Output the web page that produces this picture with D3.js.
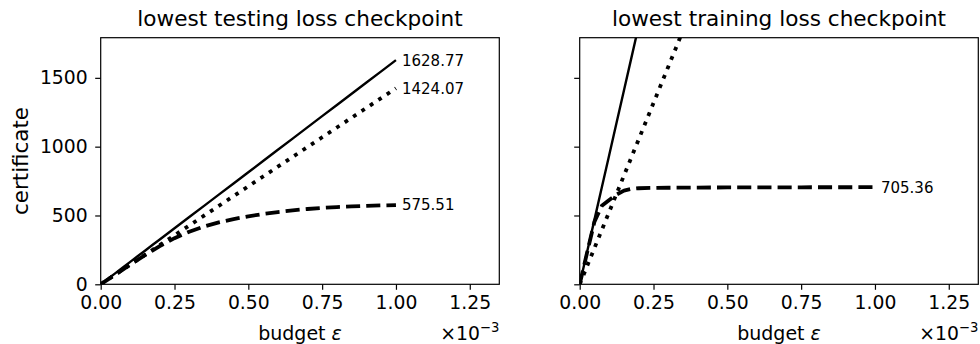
<!DOCTYPE html>
<html>
<head>
<meta charset="utf-8">
<script src="https://cdn.jsdelivr.net/npm/d3@7"></script>
<style>
  html, body { margin: 0; padding: 0; background: #fff; }
  svg { display: block; }
  text { font-family: "DejaVu Sans", sans-serif; fill: #000; }
</style>
</head>
<body>
<svg id="chart" width="980" height="344"></svg>
<script>
// Budget values (units of 1e-3)
const budgets = [0, 0.025, 0.05, 0.075, 0.1, 0.125, 0.15, 0.175, 0.2, 0.25, 0.3, 0.35, 0.4,
                 0.45, 0.5, 0.55, 0.6, 0.65, 0.7, 0.75, 0.8, 0.85, 0.9, 0.95, 1.0];

// Lowest testing loss checkpoint
const testSolid  = [0, 40.7, 81.4, 122.2, 162.9, 203.6, 244.3, 285.0, 325.8, 407.2, 488.6, 570.1, 651.5,
                    732.9, 814.4, 895.8, 977.3, 1058.7, 1140.1, 1221.6, 1303.0, 1384.5, 1465.9, 1547.3, 1628.77];
const testDotted = [0, 35.6, 71.2, 106.8, 142.4, 178.0, 213.6, 249.2, 284.8, 356.0, 427.2, 498.4, 569.6,
                    640.8, 712.0, 783.2, 854.4, 925.6, 996.8, 1068.1, 1139.3, 1210.5, 1281.7, 1352.9, 1424.07];
const testDashed = [0, 36, 72, 107, 143, 178, 212, 245, 278, 335, 382, 420, 450,
                    474, 494, 511, 525, 537, 547, 555, 561, 566, 570, 573, 575.51];

// Lowest training loss checkpoint
const trainSolid  = [0, 235, 470, 705, 940, 1175, 1410, 1645, 1880, 2350, 2820, 3290, 3760,
                     4230, 4700, 5170, 5640, 6110, 6580, 7050, 7520, 7990, 8460, 8930, 9400];
const trainDotted = [0, 131.8, 263.5, 395.3, 527.0, 658.8, 790.5, 922.3, 1054.0, 1317.5, 1581.0, 1844.5, 2108.0,
                     2371.5, 2635.0, 2898.5, 3162.0, 3425.5, 3689.0, 3952.5, 4216.0, 4479.5, 4743.0, 5006.5, 5270.0];
const trainDashed = [0, 230, 455, 570, 612, 652, 681, 693, 698, 700.5, 701.5, 702.2, 702.8,
                     703.3, 703.7, 704.0, 704.3, 704.5, 704.7, 704.9, 705.0, 705.1, 705.2, 705.3, 705.36];

const xTicks = [0, 0.25, 0.5, 0.75, 1.0, 1.25];
const yTicks = [0, 500, 1000, 1500];
const titles = ["lowest testing loss checkpoint", "lowest training loss checkpoint"];

const panels = [
  { title: titles[0], series: [testSolid, testDotted, testDashed], left: 100.7, yLabels: true },
  { title: titles[1], series: [trainSolid, trainDotted, trainDashed], left: 579.7, yLabels: false }
];

const styles = [
  { width: 2.4, dash: null },
  { width: 3.8, dash: "3.8,6.3" },
  { width: 3.8, dash: "14.1,6.1" }
];

const plotW = 398.6, plotTop = 37.7, plotBottom = 284.3;
const yMax = 1.1 * 1628.77;

const svg = d3.select("#chart");
const defs = svg.append("defs");

panels.forEach((p, i) => {
  const x = d3.scaleLinear().domain([0, 1.35]).range([p.left, p.left + plotW]);
  const y = d3.scaleLinear().domain([0, yMax]).range([plotBottom, plotTop]);

  defs.append("clipPath").attr("id", "clip" + i)
    .append("rect").attr("x", p.left).attr("y", plotTop)
    .attr("width", plotW).attr("height", plotBottom - plotTop);

  const g = svg.append("g");

  // data lines
  const line = d3.line().x((d, k) => x(budgets[k])).y(d => y(d));
  const lg = g.append("g").attr("clip-path", `url(#clip${i})`);
  p.series.forEach((s, k) => {
    lg.append("path").datum(s)
      .attr("d", line)
      .attr("fill", "none")
      .attr("stroke", "#000")
      .attr("stroke-width", styles[k].width)
      .attr("stroke-linecap", "butt")
      .attr("stroke-linejoin", "round")
      .attr("stroke-dasharray", styles[k].dash);
  });

  // end-value labels (only those inside the visible range)
  p.series.forEach(s => {
    const v = s[s.length - 1];
    if (v > yMax) return;
    g.append("text")
      .attr("x", x(budgets[budgets.length - 1]) + 6)
      .attr("y", y(v))
      .attr("dy", "0.36em")
      .attr("font-size", 15)
      .text(v.toFixed(2));
  });

  // axes
  const xAxis = d3.axisBottom(x).tickValues(xTicks).tickFormat(d3.format(".2f"))
    .tickSize(5.5).tickPadding(6);
  const gx = g.append("g").attr("transform", `translate(0,${plotBottom})`).call(xAxis);
  const yAxis = d3.axisLeft(y).tickValues(yTicks).tickSize(5.5).tickPadding(7.5)
    .tickFormat(p.yLabels ? d3.format("d") : () => "");
  const gy = g.append("g").attr("transform", `translate(${p.left},0)`).call(yAxis);
  [gx, gy].forEach(a => {
    a.select(".domain").remove();
    a.selectAll(".tick line").attr("stroke", "#000").attr("stroke-width", 1.2);
    a.selectAll(".tick text").attr("font-size", 18.8).attr("fill", "#000")
      .attr("font-family", "DejaVu Sans, sans-serif");
  });
  gx.selectAll(".tick text").attr("dy", "0.71em");

  // frame
  g.append("rect").attr("x", p.left).attr("y", plotTop)
    .attr("width", plotW).attr("height", plotBottom - plotTop)
    .attr("fill", "none").attr("stroke", "#000").attr("stroke-width", 1.2);

  // title
  g.append("text").attr("x", p.left + plotW / 2).attr("y", 26)
    .attr("text-anchor", "middle").attr("font-size", 21.6).text(p.title);

  // x label
  const xl = g.append("text").attr("x", p.left + plotW / 2).attr("y", 339.5)
    .attr("text-anchor", "middle").attr("font-size", 19);
  xl.append("tspan").text("budget ");
  xl.append("tspan").attr("font-style", "italic").text("ε");

  // scale offset text
  const off = g.append("text").attr("x", p.left + plotW).attr("y", 339.5)
    .attr("text-anchor", "end").attr("font-size", 18.8);
  off.append("tspan").text("×10");
  off.append("tspan").attr("dy", -7.5).attr("font-size", 13.2).text("−3");
});

// y-axis label
svg.append("text")
  .attr("transform", `translate(28,${(plotTop + plotBottom) / 2}) rotate(-90)`)
  .attr("text-anchor", "middle").attr("font-size", 21.4).text("certificate");
</script>
</body>
</html>
